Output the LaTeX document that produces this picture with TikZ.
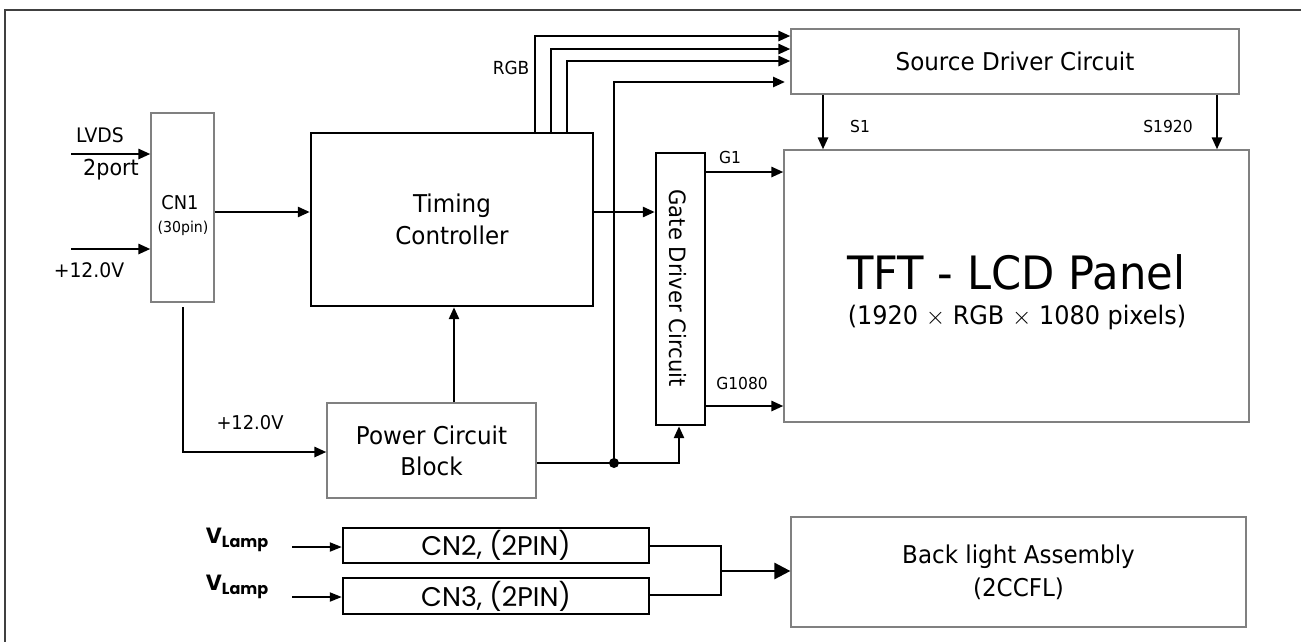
\documentclass[tikz,border=0pt]{standalone}
\usepackage{fontspec}
\setmainfont{DejaVu Sans}[FakeStretch=0.94]
\newfontfamily\gothic{Poppins}
\usetikzlibrary{arrows.meta}
\newcommand{\myfs}[2]{\fontsize{#1}{#2}\selectfont}
\begin{document}
\begin{tikzpicture}[x=1pt,y=-1pt,
  gbox/.style={draw=black!50, line width=1.2pt, inner sep=0pt, align=center},
  kbox/.style={draw=black, line width=2.4pt, inner sep=0pt, align=center},
  wire/.style={line width=2.6pt},
  arr/.style={wire, -{Triangle[length=12pt,width=10pt]}},
  bigarr/.style={wire, -{Triangle[length=16pt,width=16pt]}},
  smarr/.style={line width=2pt, -{Triangle[length=12pt,width=9pt]}},
  lbl/.style={inner sep=0pt}
]
\useasboundingbox (0,0) rectangle (1301,641);
\clip (0,0) rectangle (1301,641);
\draw[line width=2pt, black!75] (5,10) rectangle (1330,680);

% blocks
\node[gbox, minimum width=63pt, minimum height=189pt] (cn1) at (182.5,207.5) {};
\node[kbox, minimum width=282pt, minimum height=173pt, font=\myfs{24.5}{32}] (tc) at (452,219.5) {Timing\\Controller};
\node[gbox, minimum width=448pt, minimum height=65pt, font=\myfs{24.5}{32}] (src) at (1015,61.5) {Source Driver Circuit};
\node[kbox, minimum width=49pt, minimum height=272pt] (gd) at (680.5,289) {};
\node[gbox, minimum width=465pt, minimum height=272pt] (tft) at (1016.5,286) {};
\node[gbox, minimum width=209pt, minimum height=95pt, font=\myfs{24.5}{31}] (pwr) at (431.5,450.5) {Power Circuit\\Block};
\node[kbox, minimum width=306pt, minimum height=35pt, font=\gothic\myfs{27}{30}] (cn2) at (496,545.5) {CN2, (2PIN)};
\node[kbox, minimum width=306pt, minimum height=36pt, font=\gothic\myfs{27}{30}] (cn3) at (496,596) {CN3, (2PIN)};
\node[gbox, minimum width=455pt, minimum height=110pt, font=\myfs{24.5}{33}] (bl) at (1018.5,572) {Back light Assembly\\(2CCFL)};

% texts
\node[lbl, font=\myfs{19}{22}] (cn1t) at (180,203) {CN1};
\node[lbl, font=\myfs{15}{18}] (cn1p) at (183,228) {(30pin)};
\node[lbl, font=\myfs{22.5}{26}, rotate=-90] (gdt) at (678,288) {Gate Driver Circuit};
\node[lbl, font=\myfs{46}{50}] (tftt) at (1016,272) {TFT - LCD Panel};
\node[lbl, font=\myfs{25.5}{30}] (tfts) at (1017,317) {(1920 $\times$ RGB $\times$ 1080 pixels)};
\node[lbl, font=\myfs{20}{24}] (lvds) at (100,135) {LVDS};
\node[lbl, font=\myfs{22}{26}] (port) at (111,170) {2port};
\node[lbl, font=\myfs{20}{24}] (v12a) at (89,270) {+12.0V};
\node[lbl, font=\myfs{19}{22}] (v12b) at (250,423) {+12.0V};
\node[lbl, font=\myfs{18}{22}] (rgb) at (511,68) {RGB};
\node[lbl, font=\myfs{16.5}{20}] (g1) at (730,157) {G1};
\node[lbl, font=\myfs{16.5}{20}] (g1080) at (742,383) {G1080};
\node[lbl, font=\myfs{16.5}{20}] (s1) at (860,126) {S1};
\node[lbl, font=\myfs{16.5}{20}] (s1920) at (1168,126) {S1920};
\node[lbl, font=\gothic\bfseries\myfs{22}{24}] (vl1) at (237,540) {V\raisebox{-4pt}{\myfs{16}{17}Lamp}};
\node[lbl, font=\gothic\bfseries\myfs{22}{24}] (vl2) at (237,587) {V\raisebox{-4pt}{\myfs{16}{17}Lamp}};

% helper coordinates
\coordinate (lvin) at (71,154);
\coordinate (pin) at (71,249);
\coordinate (ct) at (0,212);
\coordinate (cpt) at (183,307);
\coordinate (cp) at (183,452);
\coordinate (rgb1) at (535,36);
\coordinate (rgb2) at (551,49);
\coordinate (rgb3) at (567,61);
\coordinate (jn) at (614,463);
\coordinate (pk) at (679,463);
\coordinate (vt) at (614,82);
\coordinate (vtend) at (785,82);
\coordinate (gy1) at (0,172);
\coordinate (gy2) at (0,406);
\coordinate (sx1) at (823,0);
\coordinate (sx2) at (1217,0);
\coordinate (la1) at (292,547);
\coordinate (la2) at (292,597);
\coordinate (m1) at (721,546);
\coordinate (m2) at (721,595);
\coordinate (mm) at (721,571);
\coordinate (pt) at (454,0);

% connectors
\draw[arr] (lvin) -- (lvin -| cn1.west);
\draw[arr] (pin) -- (pin -| cn1.west);
\draw[arr] (cn1.east |- ct) -- (tc.west |- ct);
\draw[arr] (cpt) -- (cp) -- (cp -| pwr.west);
\draw[arr] (pwr.north -| pt) -- (tc.south -| pt);
\draw[arr] (tc.north -| rgb1) -- (rgb1) -- (rgb1 -| src.west);
\draw[arr] (tc.north -| rgb2) -- (rgb2) -- (rgb2 -| src.west);
\draw[arr] (tc.north -| rgb3) -- (rgb3) -- (rgb3 -| src.west);
\draw[arr] (pwr.east |- jn) -- (pk) -- (pk |- gd.south);
\draw[arr] (jn) -- (vt) -- (vtend);
\fill (jn) circle (5pt);
\draw[arr] (tc.east |- ct) -- (gd.west |- ct);
\draw[arr] (gd.east |- gy1) -- (tft.west |- gy1);
\draw[arr] (gd.east |- gy2) -- (tft.west |- gy2);
\draw[arr] (src.south -| sx1) -- (tft.north -| sx1);
\draw[arr] (src.south -| sx2) -- (tft.north -| sx2);
\draw[smarr] (la1) -- (la1 -| cn2.west);
\draw[smarr] (la2) -- (la2 -| cn3.west);
\draw[wire] (cn2.east |- m1) -- (m1) -- (m2) -- (cn3.east |- m2);
\draw[bigarr] (mm) -- (mm -| bl.west);
\end{tikzpicture}
\end{document}
